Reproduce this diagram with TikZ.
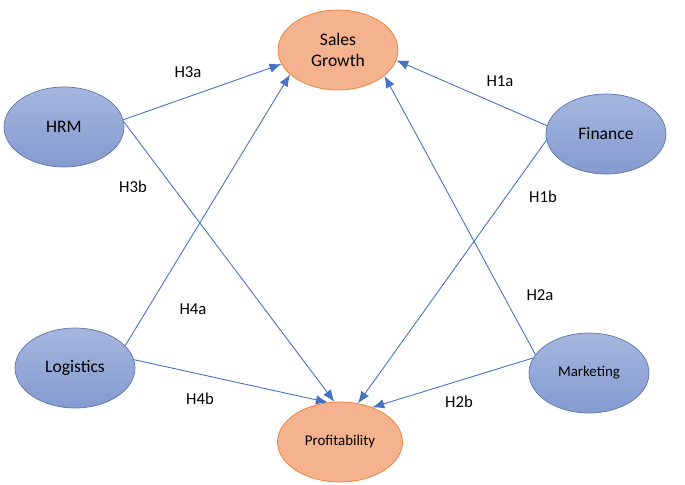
\documentclass[tikz,border=0pt]{standalone}
\usepackage{fontspec}
\setmainfont{Carlito}
\usetikzlibrary{shapes,arrows.meta,positioning}
\definecolor{bluefillT}{RGB}{165,182,222}
\definecolor{bluefillB}{RGB}{132,155,208}
\definecolor{blueline}{RGB}{92,118,172}
\definecolor{orangefill}{RGB}{245,178,142}
\definecolor{orangeline}{RGB}{237,125,49}
\definecolor{arrowblue}{RGB}{68,114,196}
\tikzset{
	auto,semithick,
	construct/.style ={ellipse, draw=blueline, thin, top color=bluefillT, bottom color=bluefillB,
		inner sep=0pt, minimum width=2.4cm, minimum height=1.6cm, font=\fontsize{10}{12}\selectfont},
	outcome/.style ={ellipse, draw=orangeline, thin, fill=orangefill,
		inner sep=0pt, minimum width=2.4cm, minimum height=1.6cm, align=center, font=\fontsize{10}{12}\selectfont},
	link/.style = {-{Latex[length=0.24cm,width=0.19cm]}, color=arrowblue, line width=0.5pt},
	hyp/.style = {font=\fontsize{9.5}{11}\selectfont}
}
\begin{document}
\begin{tikzpicture}[x=0.02cm,y=-0.02cm]
    \useasboundingbox (0,0) rectangle (685,484);

    \node[outcome] (sg) at (338,50) {Sales\\Growth};
    \node[outcome, minimum width=2.5cm, font=\fontsize{8.5}{10}\selectfont] (prof) at (340,442) {Profitability};
    \node[construct] (hrm) at (64,127) {HRM};
    \node[construct] (fin) at (606,134) {Finance};
    \node[construct] (log) at (75,368) {Logistics};
    \node[construct, font=\fontsize{8.5}{10}\selectfont] (mkt) at (589,373) {Marketing};

    \path (hrm.7) [link] edge (sg.194);
    \path (hrm.5) [link] edge (prof.98);
    \path (fin.172) [link] edge (sg.350);
    \path (fin.186) [link] edge (prof.65);
    \path (log.24) [link] edge (sg.207);
    \path (log.8) [link] edge (prof.107);
    \path (mkt.161) [link] edge (sg.331);
    \path (mkt.165) [link] edge (prof.47);

    \node[hyp] (h3a) at (188,72) {H3a};
    \node[hyp] (h1a) at (500,81) {H1a};
    \node[hyp] (h3b) at (133,187) {H3b};
    \node[hyp] (h1b) at (543,197) {H1b};
    \node[hyp] (h2a) at (540,295) {H2a};
    \node[hyp] (h4a) at (193,309) {H4a};
    \node[hyp] (h4b) at (200,399) {H4b};
    \node[hyp] (h2b) at (459,402) {H2b};

\end{tikzpicture}
\end{document}
